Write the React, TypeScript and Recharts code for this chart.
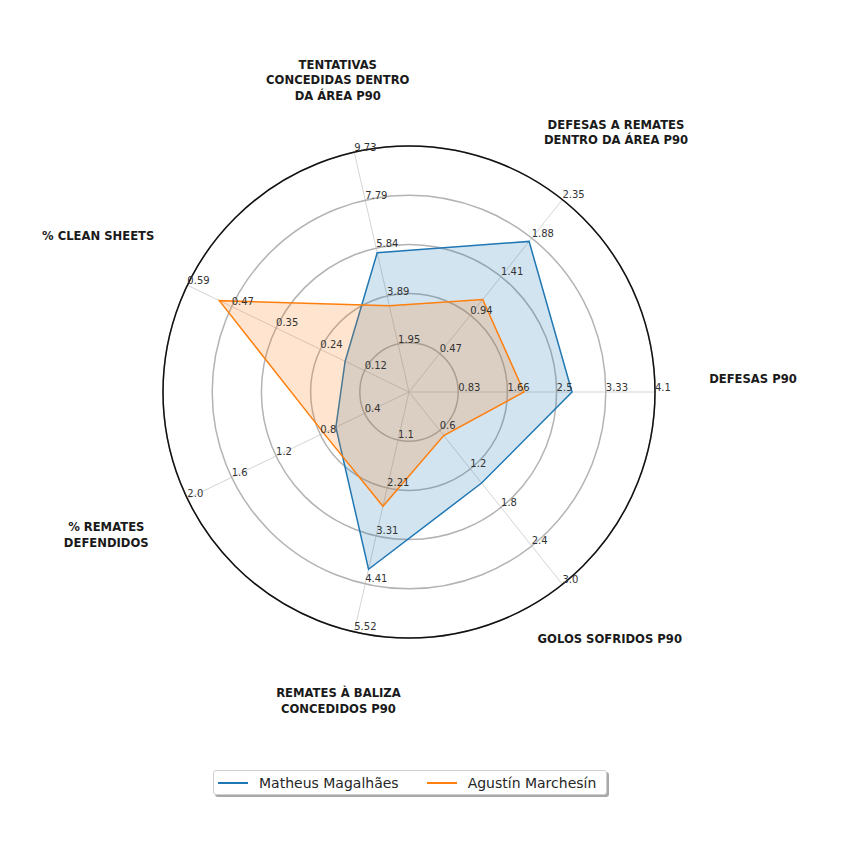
import React from 'react';
import { RadarChart, Radar, PolarGrid, PolarAngleAxis, PolarRadiusAxis, Legend } from 'recharts';

// each axis has its own scale, so values are stored raw and normalised by AXIS_MAX
const AXIS_LINES = [
  ['DEFESAS P90'],
  ['DEFESAS A REMATES', 'DENTRO DA ÁREA P90'],
  ['TENTATIVAS', 'CONCEDIDAS DENTRO', 'DA ÁREA P90'],
  ['% CLEAN SHEETS'],
  ['% REMATES', 'DEFENDIDOS'],
  ['REMATES À BALIZA', 'CONCEDIDOS P90'],
  ['GOLOS SOFRIDOS P90'],
];
const AXIS_MAX = [4.15, 2.35, 9.73, 0.59, 2.0, 5.52, 3.0];
const TICK_LABELS = [
  ['0.83', '1.66', '2.5', '3.33', '4.1'],
  ['0.47', '0.94', '1.41', '1.88', '2.35'],
  ['1.95', '3.89', '5.84', '7.79', '9.73'],
  ['0.12', '0.24', '0.35', '0.47', '0.59'],
  ['0.4', '0.8', '1.2', '1.6', '2.0'],
  ['1.1', '2.21', '3.31', '4.41', '5.52'],
  ['0.6', '1.2', '1.8', '2.4', '3.0'],
];
const MATHEUS = [2.75, 1.84, 5.65, 0.17, 0.66, 4.08, 1.42];
const AGUSTIN = [1.94, 1.13, 3.5, 0.505, 0.77, 2.63, 0.68];
const PLAYERS = ['Matheus Magalhães', 'Agustín Marchesín'];

const CX = 409;
const CY = 392;
const R = 246;
const STEP = 360 / AXIS_LINES.length;
const GRID_STEPS = [1, 2, 3, 4, 5];
// label placement (distance from centre, vertical nudge)
const LABEL_R = [344, 332, 320, 345, 336, 317, 322];
const LABEL_DY = [-13, 0, 0, -6, -3, 0, -5];

const rows = AXIS_LINES.map((lines, i) => ({
  axis: lines.join(' '),
  matheus: MATHEUS[i] / AXIS_MAX[i],
  agustin: AGUSTIN[i] / AXIS_MAX[i],
}));

const renderAngleTick = (props: any) => {
  const i = props.index;
  const a = (i * STEP * Math.PI) / 180;
  const cos = Math.cos(a);
  const sin = Math.sin(a);
  const x = CX + LABEL_R[i] * cos;
  const y = CY - LABEL_R[i] * sin + LABEL_DY[i];
  const lines = AXIS_LINES[i];
  const lh = 15.5;
  const y0 = y - ((lines.length - 1) * lh) / 2;
  return (
    <g>
      {GRID_STEPS.map((k) => {
        const r = (R * k) / GRID_STEPS.length;
        return (
          <text
            key={k}
            x={CX + r * cos}
            y={CY - r * sin - 1.5}
            textAnchor="start"
            fontFamily="DejaVu Sans"
            fontSize={10}
            fill="#333"
          >
            {TICK_LABELS[i][k - 1]}
          </text>
        );
      })}
      <text x={x} y={y0} textAnchor="middle" fontFamily="DejaVu Sans" fontWeight="bold" fontSize={11.6} fill="#1a1a1a">
        {lines.map((l, k) => (
          <tspan key={k} x={x} y={y0 + k * lh} dominantBaseline="central">
            {l}
          </tspan>
        ))}
      </text>
    </g>
  );
};

const renderLegend = () => (
  <div
    style={{
      display: 'flex',
      alignItems: 'center',
      height: 25,
      boxSizing: 'border-box',
      border: '1px solid #d0d0d0',
      borderRadius: 3,
      boxShadow: '2px 2px 0 #a8a8a8',
      background: '#fff',
      fontFamily: 'DejaVu Sans',
      fontSize: 14,
      color: '#262626',
      paddingLeft: 4,
    }}
  >
    {PLAYERS.map((p, i) => (
      <div key={p} style={{ display: 'flex', alignItems: 'center', marginRight: i === 0 ? 28 : 0 }}>
        <div style={{ width: 30, height: 2, background: i === 0 ? '#1f77b4' : '#ff7f0e', marginRight: 11 }} />
        <span>{p}</span>
      </div>
    ))}
  </div>
);

export default function App() {
  return (
    <div style={{ position: 'absolute', left: 0, top: 0, width: 850, height: 850, background: '#fff' }}>
      <RadarChart
        width={850}
        height={850}
        cx={CX}
        cy={CY}
        outerRadius={R}
        startAngle={-STEP}
        endAngle={360 - STEP}
        data={rows}
        margin={{ top: 0, right: 0, bottom: 0, left: 0 }}
      >
        <PolarGrid
          polarRadius={[]}
          polarAngles={AXIS_LINES.map((_, i) => i * STEP)}
          stroke="#cfcfcf"
          strokeWidth={0.9}
        />
        <PolarGrid
          gridType="circle"
          radialLines={false}
          polarRadius={GRID_STEPS.map((k) => (R * k) / GRID_STEPS.length)}
          stroke="#b3b3b3"
          strokeWidth={1.5}
        />
        <PolarRadiusAxis type="number" domain={[0, 1]} tickCount={6} tick={false} axisLine={false} tickLine={false} />
        <PolarAngleAxis
          dataKey="axis"
          axisLineType="circle"
          axisLine={{ stroke: '#111', strokeWidth: 1.5 }}
          tickLine={false}
          tick={renderAngleTick}
        />
        <Radar
          name={PLAYERS[0]}
          dataKey="matheus"
          stroke="#1f77b4"
          strokeWidth={1.5}
          fill="#1f77b4"
          fillOpacity={0.2}
          dot={false}
          isAnimationActive={false}
        />
        <Radar
          name={PLAYERS[1]}
          dataKey="agustin"
          stroke="#ff7f0e"
          strokeWidth={1.5}
          fill="#ff7f0e"
          fillOpacity={0.2}
          dot={false}
          isAnimationActive={false}
        />
        <Legend content={renderLegend} wrapperStyle={{ left: 213, top: 770, width: 394, bottom: 'auto' }} />
      </RadarChart>
    </div>
  );
}
